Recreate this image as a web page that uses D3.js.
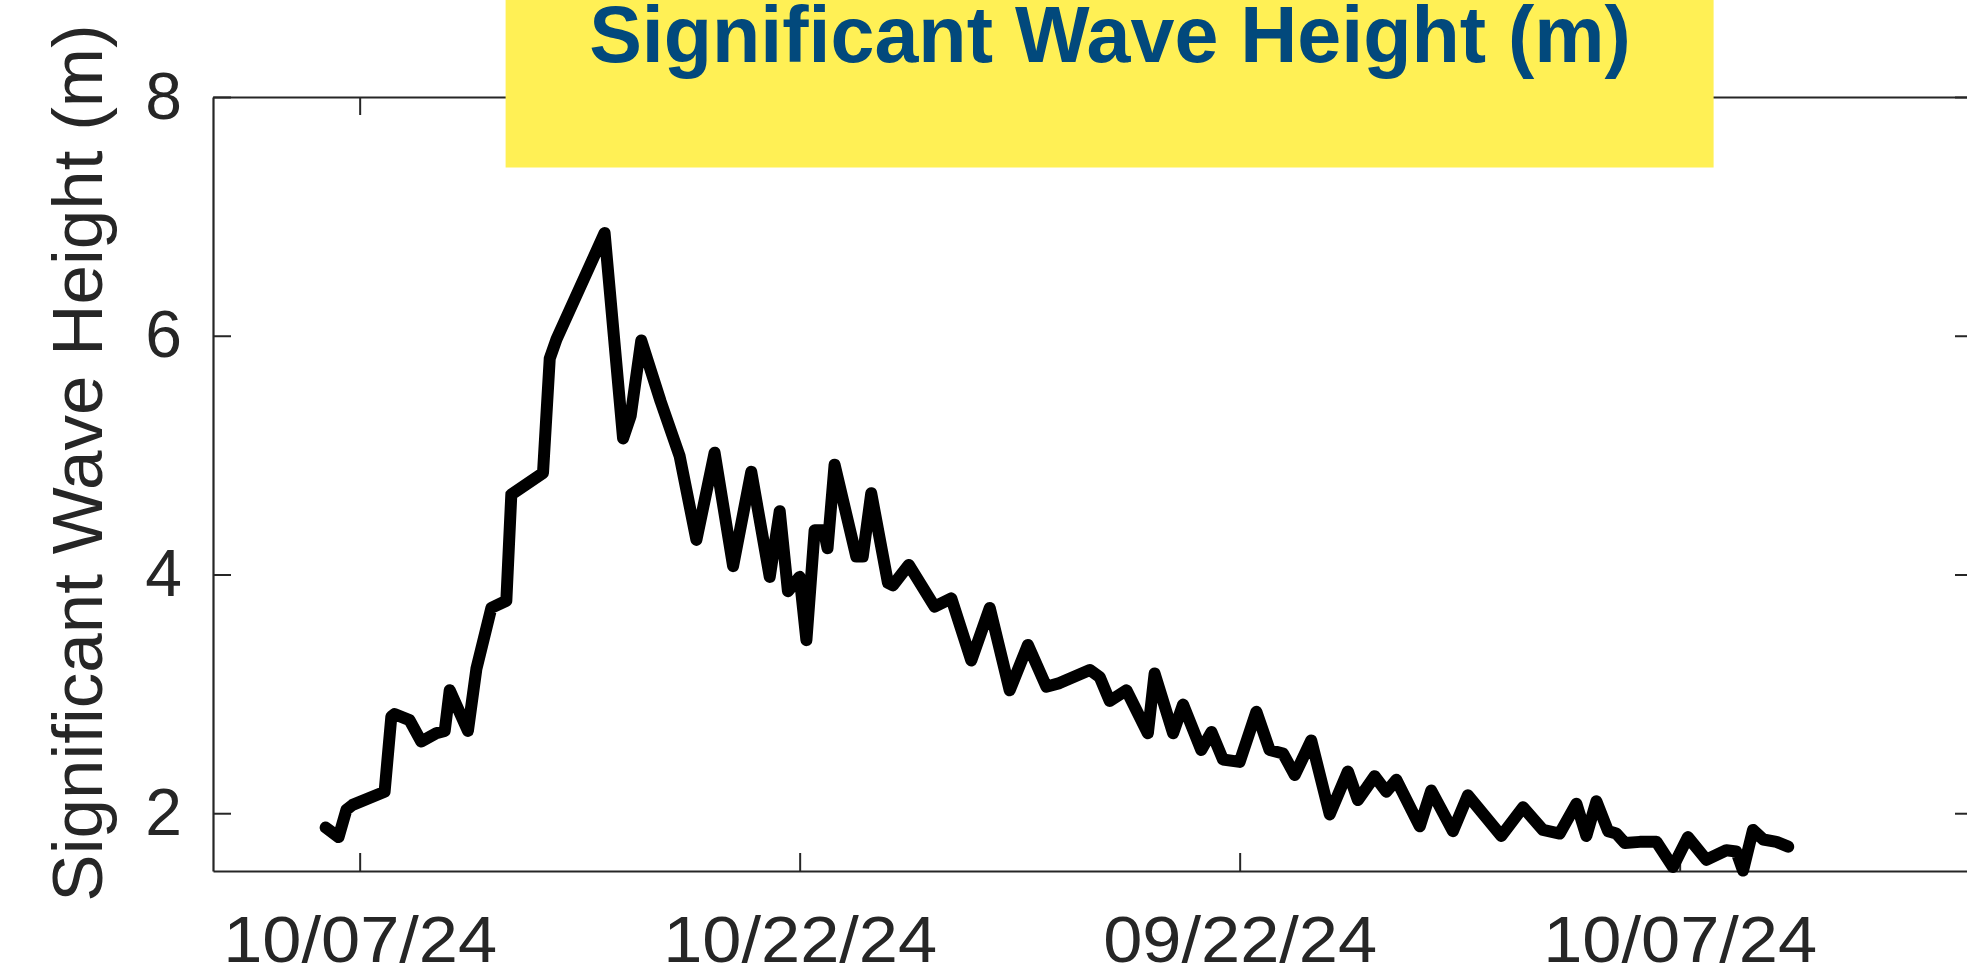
<!DOCTYPE html>
<html>
<head>
<meta charset="utf-8">
<script src="https://cdn.jsdelivr.net/npm/d3@7/dist/d3.min.js"></script>
<style>
  html, body { margin: 0; padding: 0; background: #fff; }
  svg { display: block; }
  .axis text { font-family: "Liberation Sans", Arial, Helvetica, sans-serif; fill: #262626; }
</style>
</head>
<body>
<svg id="chart" width="1967" height="974"></svg>
<script>
'use strict';

// time in days since the first labelled tick, wave height in metres
var days = [
    -1.16, -0.72, -0.45, -0.24, 0.85, 1.08, 1.19, 1.70, 2.10, 2.61,
    2.90, 3.07, 3.69, 3.98, 4.49, 5.00, 5.17, 6.25, 6.48, 6.71,
    8.35, 8.98, 9.24, 9.60, 10.26, 10.91, 11.48, 12.10, 12.73, 13.35,
    13.98, 14.32, 14.60, 15.00, 15.23, 15.51, 15.82, 15.95, 16.19, 16.93,
    17.15, 17.44, 18.01, 18.18, 18.72, 19.60, 20.17, 20.85, 21.48, 22.16,
    22.78, 23.41, 23.86, 24.89, 25.23, 25.57, 26.14, 26.87, 27.10, 27.73,
    28.07, 28.69, 29.04, 29.43, 30.00, 30.57, 31.02, 31.48, 31.88, 32.44,
    33.07, 33.69, 34.03, 34.60, 35.00, 35.34, 36.14, 36.53, 37.27, 37.78,
    38.92, 39.66, 40.34, 40.91, 41.48, 41.82, 42.16, 42.56, 42.84, 43.13,
    43.64, 44.21, 44.77, 45.28, 45.91, 46.59, 46.93, 47.16, 47.50, 47.85,
    48.30, 48.70
];
var waveHeight = [
    1.88, 1.80, 2.03, 2.07, 2.18, 2.81, 2.83, 2.78, 2.60, 2.67,
    2.69, 3.03, 2.69, 3.21, 3.72, 3.78, 4.67, 4.85, 5.81, 5.97,
    6.86, 5.14, 5.33, 5.96, 5.45, 4.99, 4.29, 5.02, 4.07, 4.86,
    3.98, 4.53, 3.86, 3.98, 3.45, 4.37, 4.37, 4.22, 4.92, 4.15,
    4.15, 4.68, 3.93, 3.91, 4.08, 3.73, 3.80, 3.28, 3.72, 3.03,
    3.41, 3.06, 3.09, 3.20, 3.14, 2.94, 3.03, 2.67, 3.17, 2.67,
    2.91, 2.53, 2.68, 2.45, 2.43, 2.85, 2.53, 2.50, 2.32, 2.61,
    1.99, 2.35, 2.11, 2.31, 2.18, 2.28, 1.89, 2.19, 1.85, 2.15,
    1.81, 2.05, 1.86, 1.83, 2.08, 1.81, 2.10, 1.85, 1.83, 1.75,
    1.76, 1.76, 1.55, 1.80, 1.61, 1.69, 1.68, 1.52, 1.86, 1.78,
    1.76, 1.72
];

var tickDays = [0, 15, 30, 45];
var tickLabels = ['10/07/24', '10/22/24', '09/22/24', '10/07/24'];
var yTicks = [2, 4, 6, 8];
var titleText = 'Significant Wave Height (m)';
var yLabelText = 'Significant Wave Height (m)';

var svg = d3.select('#chart');

var plot = { left: 213, right: 1973, top: 97, bottom: 871 };

var x = d3.scaleLinear()
    .domain([-5, 55])
    .range([plot.left, plot.right]);

var y = d3.scaleLinear()
    .domain([1.516, 8])
    .range([plot.bottom, plot.top]);

var tickLen = 18;

function styleAxis(g) {
    g.select('.domain').attr('stroke', '#262626').attr('stroke-width', 2.2);
    g.selectAll('.tick line').attr('stroke', '#262626').attr('stroke-width', 2);
}

//bottom axis with date labels (source figure is a little wide, so labels are stretched)
svg.append('g')
    .attr('class', 'axis')
    .attr('transform', 'translate(0,' + plot.bottom + ')')
    .call(d3.axisBottom(x)
        .tickValues(tickDays)
        .tickFormat(function (d, i) { return tickLabels[i]; })
        .tickSizeInner(-tickLen)
        .tickSizeOuter(0)
        .tickPadding(46))
    .call(styleAxis)
    .selectAll('text')
    .attr('font-size', 64)
    .attr('transform', 'scale(1.1,1)');

//left axis
svg.append('g')
    .attr('class', 'axis')
    .attr('transform', 'translate(' + plot.left + ',0)')
    .call(d3.axisLeft(y)
        .tickValues(yTicks)
        .tickFormat(d3.format('d'))
        .tickSizeInner(-tickLen)
        .tickSizeOuter(0)
        .tickPadding(31))
    .call(styleAxis)
    .selectAll('text')
    .attr('font-size', 66);

//top and right box edges, ticks only
svg.append('g')
    .attr('class', 'axis')
    .attr('transform', 'translate(0,' + plot.top + ')')
    .call(d3.axisTop(x)
        .tickValues(tickDays)
        .tickFormat('')
        .tickSizeInner(-tickLen)
        .tickSizeOuter(0))
    .call(styleAxis);

svg.append('g')
    .attr('class', 'axis')
    .attr('transform', 'translate(' + plot.right + ',0)')
    .call(d3.axisRight(y)
        .tickValues(yTicks)
        .tickFormat('')
        .tickSizeInner(-tickLen)
        .tickSizeOuter(0))
    .call(styleAxis);

//y label
svg.append('text')
    .attr('transform', 'translate(102,463) rotate(-90)')
    .attr('text-anchor', 'middle')
    .attr('font-family', '"Liberation Sans", Arial, Helvetica, sans-serif')
    .attr('font-size', 71)
    .attr('fill', '#262626')
    .text(yLabelText);

//wave height series
var series = days.map(function (d, i) { return { day: d, h: waveHeight[i] }; });

var line = d3.line()
    .x(function (d) { return x(d.day); })
    .y(function (d) { return y(d.h); });

svg.append('path')
    .datum(series)
    .attr('d', line)
    .attr('fill', 'none')
    .attr('stroke', '#000')
    .attr('stroke-width', 12)
    .attr('stroke-linejoin', 'round')
    .attr('stroke-linecap', 'round');

//yellow title banner sits over the top axis
svg.append('rect')
    .attr('x', 505.6)
    .attr('y', 0)
    .attr('width', 1208)
    .attr('height', 167.5)
    .attr('fill', '#FFF055');

svg.append('text')
    .attr('x', 1110)
    .attr('y', 62)
    .attr('text-anchor', 'middle')
    .attr('font-family', '"Liberation Sans", Arial, Helvetica, sans-serif')
    .attr('font-weight', 'bold')
    .attr('font-size', 79)
    .attr('fill', '#02497C')
    .text(titleText);
</script>
</body>
</html>
